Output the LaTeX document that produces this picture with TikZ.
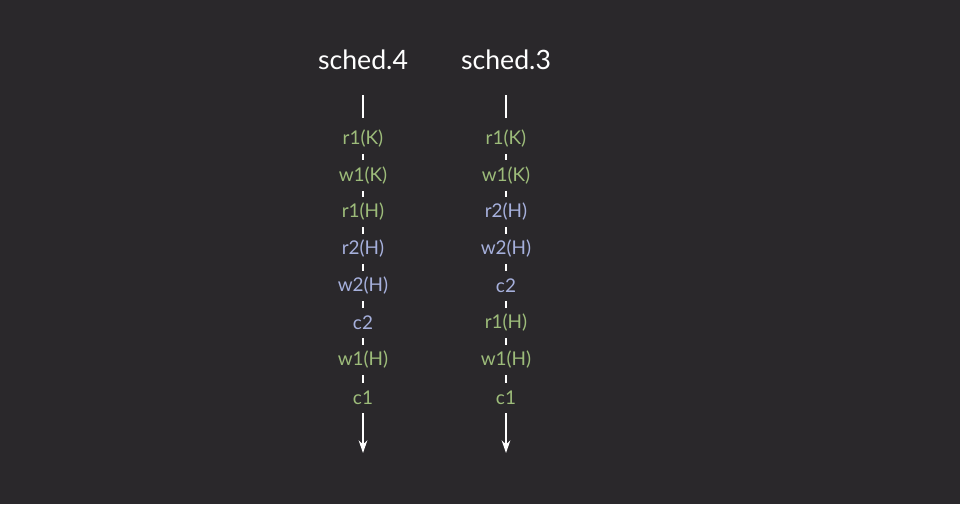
\documentclass[tikz,border=0pt]{standalone}
\usepackage{fontspec}
\setmainfont{Lato}
\usetikzlibrary{arrows.meta}
\definecolor{bgc}{HTML}{2A282B}
\definecolor{tgreen}{HTML}{9DBC7A}
\definecolor{tblue}{HTML}{A6B0DC}
\tikzset{
  title/.style={text=white,font=\fontsize{20}{24}\selectfont,inner sep=0pt},
  lab/.style={font=\fontsize{14.2}{16}\selectfont,inner sep=0pt,yshift=-1.5pt},
  gl/.style={lab,text=tgreen},
  bl/.style={lab,text=tblue},
  tick/.style={draw=white,line width=1.5pt,shorten >=11.5pt,shorten <=11.5pt},
  axis/.style={draw=white,line width=1.5pt},
}
\begin{document}
\begin{tikzpicture}[x=0.75pt,y=-0.75pt]
\fill[bgc] (0,0) rectangle (960,504);
\useasboundingbox (0,0) rectangle (960,504);
% titles
\node[title] (t4) at (363,60) {sched.4};
\node[title] (t3) at (506,60) {sched.3};
% schedule 4
\node[gl] (a1) at (363,137) {r1(K)};
\node[gl] (a2) at (363,173.5) {w1(K)};
\node[gl] (a3) at (363,210) {r1(H)};
\node[bl] (a4) at (363,247) {r2(H)};
\node[bl] (a5) at (363,284) {w2(H)};
\node[bl] (a6) at (363,321) {c2};
\node[gl] (a7) at (363,358) {w1(H)};
\node[gl] (a8) at (363,396) {c1};
% schedule 3
\node[gl] (b1) at (506,137) {r1(K)};
\node[gl] (b2) at (506,173.5) {w1(K)};
\node[bl] (b3) at (506,210) {r2(H)};
\node[bl] (b4) at (506,247) {w2(H)};
\node[bl] (b5) at (506,284) {c2};
\node[gl] (b6) at (506,321) {r1(H)};
\node[gl] (b7) at (506,358) {w1(H)};
\node[gl] (b8) at (506,396) {c1};
% axis coordinates
\coordinate (a0s) at (363,95);
\coordinate (a0e) at (363,118);
\coordinate (b0s) at (506,95);
\coordinate (b0e) at (506,118);
\coordinate (a9s) at (363,413);
\coordinate (a9e) at (363,453);
\coordinate (b9s) at (506,413);
\coordinate (b9e) at (506,453);
\draw[axis] (a0s) -- (a0e);
\draw[axis] (b0s) -- (b0e);
\draw[axis,-{Stealth[length=9.5pt,width=6.5pt]}] (a9s) -- (a9e);
\draw[axis,-{Stealth[length=9.5pt,width=6.5pt]}] (b9s) -- (b9e);
\foreach \p/\q in {1/2,2/3,3/4,4/5,5/6,6/7,7/8}{
  \draw[tick] (a\p.center) -- (a\q.center);
  \draw[tick] (b\p.center) -- (b\q.center);
}
\end{tikzpicture}
\end{document}
